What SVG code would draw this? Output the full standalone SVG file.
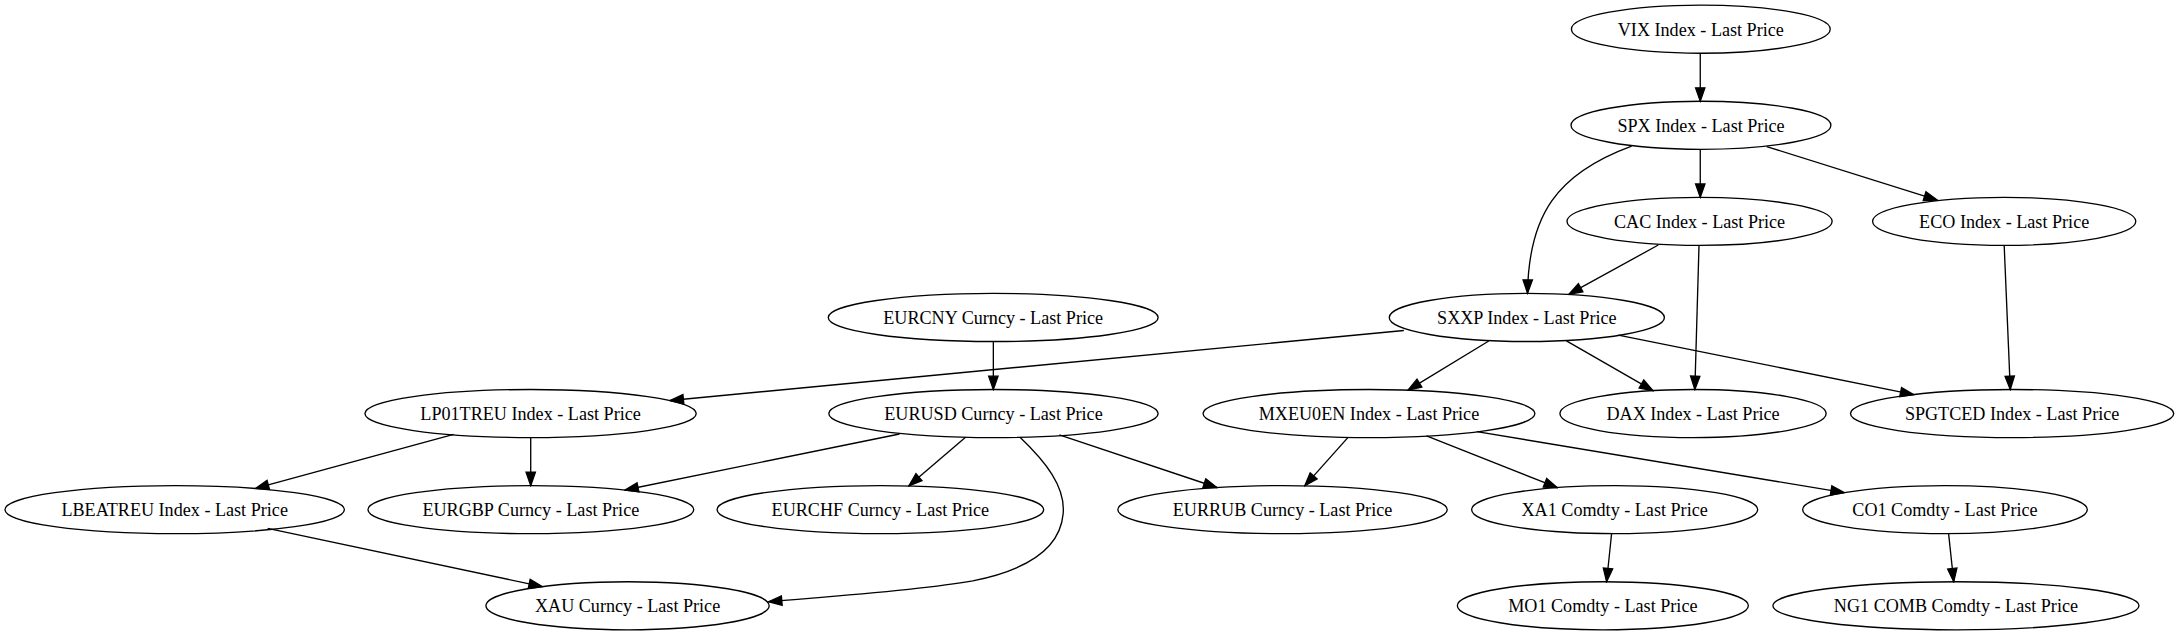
<svg xmlns="http://www.w3.org/2000/svg" width="2179" height="635" viewBox="0 0 2179 635">
<style>
.n ellipse{fill:none;stroke:#000;stroke-width:0.96}
.n text{font-family:"Liberation Serif","Times New Roman",serif;font-size:13.05px;text-anchor:middle;fill:#000}
#edges path{fill:none;stroke:#000;stroke-width:0.96;marker-end:url(#ah)}
</style>
<defs>
<marker id="ah" viewBox="-1 -1 12 9" refX="10" refY="3.5" markerWidth="11.52" markerHeight="8.64" markerUnits="userSpaceOnUse" orient="auto">
<path d="M0,0 L10,3.5 L0,7 z" fill="#000" stroke="#000" stroke-width="1"/>
</marker>
</defs>
<rect width="2179" height="635" fill="#fff"/>
<g transform="scale(1.38967)">
<g id="edges">
<path d="M1223.5,38.3 L1223.5,72.8"/>
<path d="M1223.5,107.5 L1223.5,142"/>
<path d="M1271.3,105.5 L1394.1,144"/>
<path d="M1174.1,105.1 C1120,125 1100,155 1099.2,211"/>
<path d="M1193.3,176.3 L1129,211.7"/>
<path d="M1222.6,176.6 L1219.6,280.3"/>
<path d="M1442.2,176.6 L1446.6,280.3"/>
<path d="M714.8,245.8 L714.8,280.3"/>
<path d="M1010.2,237.8 L482.2,288.2"/>
<path d="M1071.3,245.4 L1013.2,280.7"/>
<path d="M1127.2,245.3 L1189.5,281.1"/>
<path d="M1164.5,241.1 L1377.1,284"/>
<path d="M326.4,312.5 L183.8,351.5"/>
<path d="M381.9,314.9 L381.9,349.45"/>
<path d="M647.3,312.3 L449.7,352.6"/>
<path d="M694.8,314.7 L654,349.6"/>
<path d="M734,314.7 C752,332 767,350 765,370 C763,392 745,409 700,418 C660,425 600,429 553,433"/>
<path d="M762.3,313 L875.7,350.8"/>
<path d="M969.9,314.9 L938.9,349.6"/>
<path d="M1026.5,313.7 L1120.7,350.9"/>
<path d="M1062.7,310.6 L1327.1,354.5"/>
<path d="M192.6,380.2 L390.2,422.1"/>
<path d="M1159.7,383.9 L1156.1,418.6"/>
<path d="M1402.2,384 L1405.9,418.6"/>
</g>
<g id="vix" class="n"><ellipse cx="1223.9" cy="21" rx="93.1" ry="17.3"/><text x="1223.9" y="25.6">VIX Index - Last Price</text></g>
<g id="spx" class="n"><ellipse cx="1224" cy="90.15" rx="93.5" ry="17.3"/><text x="1224" y="94.75">SPX Index - Last Price</text></g>
<g id="cac" class="n"><ellipse cx="1223" cy="159.3" rx="95.4" ry="17.3"/><text x="1223" y="163.9">CAC Index - Last Price</text></g>
<g id="eco" class="n"><ellipse cx="1442.2" cy="159.3" rx="94.7" ry="17.3"/><text x="1442.2" y="163.9">ECO Index - Last Price</text></g>
<g id="eurcny" class="n"><ellipse cx="714.7" cy="228.45" rx="118.7" ry="17.3"/><text x="714.7" y="233.05">EURCNY Curncy - Last Price</text></g>
<g id="sxxp" class="n"><ellipse cx="1098.7" cy="228.45" rx="99" ry="17.3"/><text x="1098.7" y="233.05">SXXP Index - Last Price</text></g>
<g id="lp01treu" class="n"><ellipse cx="381.8" cy="297.6" rx="119.2" ry="17.3"/><text x="381.8" y="302.2">LP01TREU Index - Last Price</text></g>
<g id="eurusd" class="n"><ellipse cx="714.9" cy="297.6" rx="118.5" ry="17.3"/><text x="714.9" y="302.2">EURUSD Curncy - Last Price</text></g>
<g id="mxeu0en" class="n"><ellipse cx="985.1" cy="297.6" rx="119.4" ry="17.3"/><text x="985.1" y="302.2">MXEU0EN Index - Last Price</text></g>
<g id="dax" class="n"><ellipse cx="1218.3" cy="297.6" rx="95.8" ry="17.3"/><text x="1218.3" y="302.2">DAX Index - Last Price</text></g>
<g id="spgtced" class="n"><ellipse cx="1447.9" cy="297.6" rx="116.3" ry="17.3"/><text x="1447.9" y="302.2">SPGTCED Index - Last Price</text></g>
<g id="lbeatreu" class="n"><ellipse cx="125.7" cy="366.75" rx="122.1" ry="17.3"/><text x="125.7" y="371.35">LBEATREU Index - Last Price</text></g>
<g id="eurgbp" class="n"><ellipse cx="382" cy="366.75" rx="117.2" ry="17.3"/><text x="382" y="371.35">EURGBP Curncy - Last Price</text></g>
<g id="eurchf" class="n"><ellipse cx="633.5" cy="366.75" rx="117.5" ry="17.3"/><text x="633.5" y="371.35">EURCHF Curncy - Last Price</text></g>
<g id="eurrub" class="n"><ellipse cx="922.9" cy="366.75" rx="118.5" ry="17.3"/><text x="922.9" y="371.35">EURRUB Curncy - Last Price</text></g>
<g id="xa1" class="n"><ellipse cx="1161.9" cy="366.75" rx="102.9" ry="17.3"/><text x="1161.9" y="371.35">XA1 Comdty - Last Price</text></g>
<g id="co1" class="n"><ellipse cx="1399.6" cy="366.75" rx="102.4" ry="17.3"/><text x="1399.6" y="371.35">CO1 Comdty - Last Price</text></g>
<g id="xau" class="n"><ellipse cx="451.6" cy="435.9" rx="101.9" ry="17.3"/><text x="451.6" y="440.5">XAU Curncy - Last Price</text></g>
<g id="mo1" class="n"><ellipse cx="1153.4" cy="435.9" rx="104.7" ry="17.3"/><text x="1153.4" y="440.5">MO1 Comdty - Last Price</text></g>
<g id="ng1" class="n"><ellipse cx="1407.5" cy="435.9" rx="131.7" ry="17.3"/><text x="1407.5" y="440.5">NG1 COMB Comdty - Last Price</text></g>
</g>
</svg>
